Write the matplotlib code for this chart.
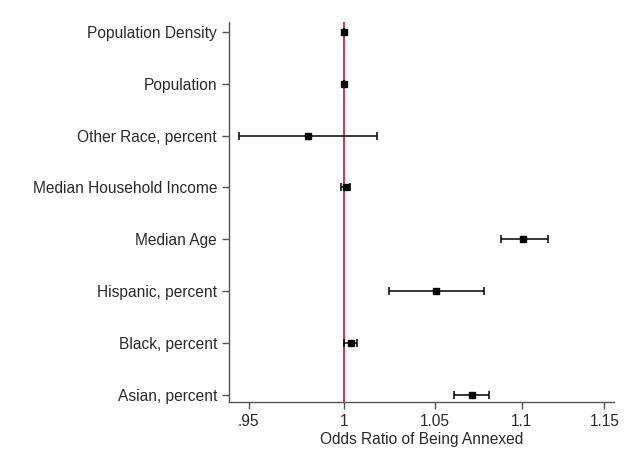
import numpy as np
import matplotlib
matplotlib.use("Agg")
import matplotlib.pyplot as plt
from matplotlib.ticker import FixedLocator, FixedFormatter, NullLocator

plt.rcParams['font.family'] = ['Liberation Sans', 'DejaVu Sans']

# odds ratios (top to bottom)
labels = ["Population Density", "Population", "Other Race, percent",
          "Median Household Income", "Median Age", "Hispanic, percent",
          "Black, percent", "Asian, percent"]
odds = [1.000, 1.000, 0.981, 1.001, 1.101, 1.0505, 1.0036, 1.071]
ci_low = [0.9998, 0.9998, 0.945, 0.9986, 1.088, 1.0243, 1.0, 1.061]
ci_high = [1.0002, 1.0002, 1.018, 1.003, 1.116, 1.078, 1.0068, 1.081]

xticks = [0.95, 1.0, 1.05, 1.1, 1.15]
xtick_labels = [".95", "1", "1.05", "1.1", "1.15"]

odds = np.array(odds)
lo = odds - np.array(ci_low)
hi = np.array(ci_high) - odds
ypos = np.arange(len(labels))[::-1]

fig = plt.figure(figsize=(6.34, 4.49), dpi=100)
ax = fig.add_axes([0.361, 0.1047, 0.6075, 0.8463])

ax.axvline(1.0, color="#c4123f", lw=1.2, zorder=1)
ax.errorbar(odds, ypos, xerr=[lo, hi], fmt="s", color="black",
            ms=3.8, elinewidth=1.1, capsize=3, capthick=1.1, zorder=3)

ax.set_xscale("log")
ax.set_xlim(0.940, 1.156)
ax.set_ylim(-0.135, 7.19)
ax.xaxis.set_major_locator(FixedLocator(xticks))
ax.xaxis.set_major_formatter(FixedFormatter(xtick_labels))
ax.xaxis.set_minor_locator(NullLocator())
ax.set_yticks(ypos)
ax.set_yticklabels(labels)

for s in ["top", "right"]:
    ax.spines[s].set_visible(False)
for s in ["left", "bottom"]:
    ax.spines[s].set_color("#555555")
    ax.spines[s].set_linewidth(1.0)
ax.tick_params(axis="both", colors="#555555", labelcolor="#2a2a2a",
               labelsize=11.2, length=5, width=1.0)
ax.set_xlabel("Odds Ratio of Being Annexed", fontsize=11.2, color="#2a2a2a",
              labelpad=2)

fig.savefig("out.png", dpi=100)
